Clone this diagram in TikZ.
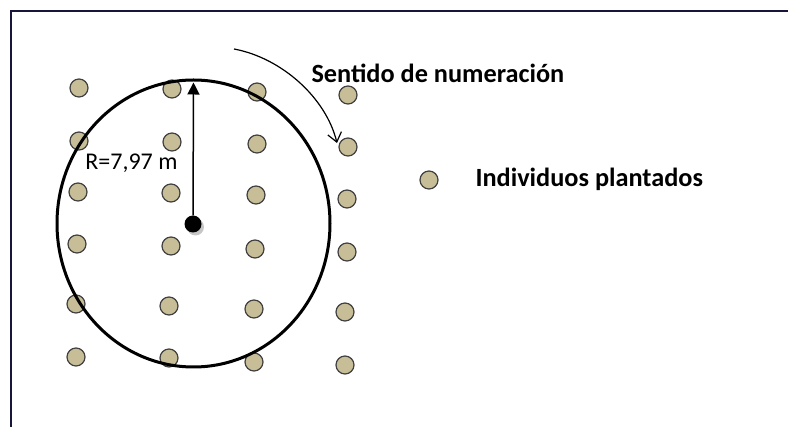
\documentclass[tikz,border=0pt]{standalone}
\usepackage{fontspec}
\setmainfont{Carlito}
\usetikzlibrary{arrows.meta, shapes.geometric}

\definecolor{arena}{RGB}{199,190,152}
\definecolor{marco}{RGB}{24,22,56}

\begin{document}
\begin{tikzpicture}[x=1pt, y=-1pt, font=\fontsize{24}{28}\selectfont,
    planta/.style={circle, draw=black!75, fill=arena, line width=1.2pt,
        minimum size=18pt, inner sep=0pt},
    rotulo/.style={anchor=base west, font=\fontsize{26.3}{30}\selectfont\bfseries}]
    \useasboundingbox (0,0) rectangle (788,427);

    % --- Marco ---
    \draw[marco, line width=2pt] (11,427) -- (11,11) -- (788,11);

    % --- Individuos plantados (cuadricula) ---
    \foreach \x/\y [count=\i] in {79/88, 172/89, 257/92, 348/95,
                                  79/141, 172/142, 257/144, 348/147,
                                  78/192, 171/193, 256/195, 347/199,
                                  77/244, 171/246, 255/249, 347/252,
                                  76/304, 169/306, 254/309, 345/312,
                                  76/357, 169/358, 254/362, 345/365}
        \node[planta] (p\i) at (\x,\y) {};

    % --- Parcela circular ---
    \node[draw, ellipse, line width=3pt, minimum width=273pt, minimum height=287pt,
        inner sep=0pt] (parcela) at (193.5,223.5) {};

    % Centro con sombra
    \fill[gray!45] (195.5,227) circle (8.5pt);
    \node[circle, fill=black, minimum size=17pt, inner sep=0pt] (centro) at (193,224) {};

    % Radio
    \draw[line width=1.5pt, -{Triangle[length=12pt, width=12pt]}, shorten >=4pt]
        (centro) -- (parcela.north);
    \node[anchor=base east] (radio) at (181,170) {R=7,97 m};

    % --- Sentido de numeracion ---
    \coordinate (inicio) at (234,49);
    \coordinate (fin) at (337,143);
    \draw[line width=1.2pt, -{Straight Barb[length=9pt, width=14pt]}]
        (inicio) .. controls (282,58) and (326,98) .. (fin);
    \node[rotulo] (sentido) at (308,83) {Sentido de numeración};

    % --- Leyenda ---
    \node[planta] (leyenda) at (429,180) {};
    \node[rotulo] (individuos) at (472,187) {Individuos plantados};
\end{tikzpicture}
\end{document}
